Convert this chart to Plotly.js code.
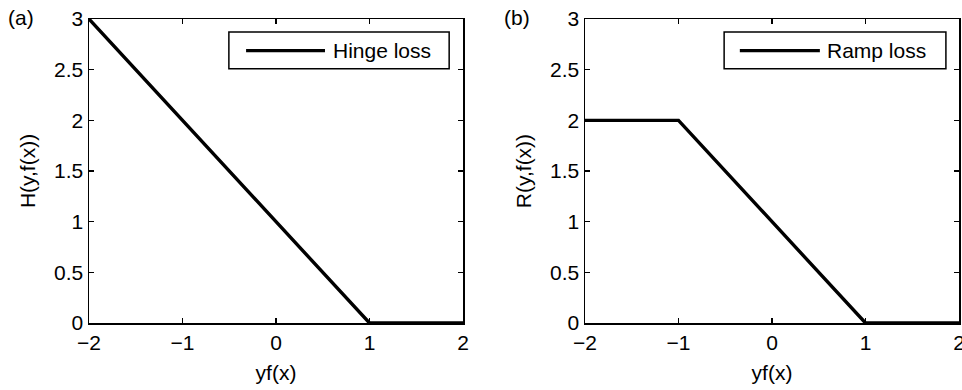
<!DOCTYPE html>
<html>
<head>
<meta charset="utf-8">
<script src="https://cdn.plot.ly/plotly-3.0.1.min.js"></script>
<style>
html,body{margin:0;padding:0;background:#fff;}
#chart{width:962px;height:390px;}
</style>
</head>
<body>
<div id="chart"></div>
<script>
// Data
const hingeX = [-2, 1, 2];
const hingeY = [3, 0, 0];
const rampX = [-2, -1, 1, 2];
const rampY = [2, 2, 0, 0];
const xTicks = [-2, -1, 0, 1, 2];
const yTicks = [0, 0.5, 1, 1.5, 2, 2.5, 3];
const seriesNames = ["Hinge loss", "Ramp loss"];
const yTitles = ["H(y,f(x))", "R(y,f(x))"];
const xTitle = "yf(x)";
const panelLabels = ["(a)", "(b)"];

const FONT = "Liberation Sans, Arial, Helvetica, sans-serif";
const fontSize = 21;

const traces = [
  {x: hingeX, y: hingeY, mode: "lines", name: seriesNames[0], showlegend: false,
   line: {color: "#000", width: 3.4}, xaxis: "x", yaxis: "y", hoverinfo: "skip"},
  {x: rampX, y: rampY, mode: "lines", name: seriesNames[1], showlegend: false,
   line: {color: "#000", width: 3.4}, xaxis: "x2", yaxis: "y2", hoverinfo: "skip"}
];

function xax(domain, anchor) {
  return {
    domain: domain, anchor: anchor, range: [-2, 2],
    tickvals: xTicks, ticks: "inside", ticklen: 5, tickwidth: 1.2, tickcolor: "#000",
    showline: true, linecolor: "#000", linewidth: 1.5, mirror: "allticks",
    showgrid: false, zeroline: false, ticklabeloverflow: "allow",
    tickfont: {family: FONT, size: fontSize, color: "#000"},
    title: {text: xTitle, font: {family: FONT, size: fontSize, color: "#000"}, standoff: 12},
    automargin: false, fixedrange: true
  };
}
function yax(anchor, title) {
  return {
    domain: [0, 1], anchor: anchor, range: [0, 3],
    tickvals: yTicks, ticks: "inside", ticklen: 5, tickwidth: 1.2, tickcolor: "#000",
    showline: true, linecolor: "#000", linewidth: 1.5, mirror: "allticks",
    showgrid: false, zeroline: false, ticklabeloverflow: "allow",
    tickfont: {family: FONT, size: fontSize, color: "#000"},
    title: {text: title, font: {family: FONT, size: fontSize, color: "#000"}, standoff: 12},
    automargin: false, fixedrange: true
  };
}

const L = 89, R = 3, T = 19, B = 67, W = 962, H = 390;
const pw = W - L - R;
const dom1 = [0, 374 / pw];
const dom2 = [(585 - L) / pw, 1];

function legendItems(xr, yr, box, line, textX, label) {
  const shapes = [
    {type: "rect", xref: xr + " domain", yref: yr + " domain",
     x0: box[0], x1: box[1], y0: box[2], y1: box[3],
     line: {color: "#000", width: 1.5}, fillcolor: "#fff", layer: "above"},
    {type: "line", xref: xr + " domain", yref: yr + " domain",
     x0: line[0], x1: line[1], y0: line[2], y1: line[2],
     line: {color: "#000", width: 3.4}, layer: "above"}
  ];
  const ann = {xref: xr + " domain", yref: yr + " domain", x: textX, y: line[2],
    xanchor: "left", yanchor: "middle", showarrow: false, text: label,
    font: {family: FONT, size: fontSize, color: "#000"}};
  return {shapes, ann};
}

const lg1 = legendItems("x", "y", [0.374, 0.963, 0.836, 0.957], [0.420, 0.631, 0.896], 0.648, seriesNames[0]);
const lg2 = legendItems("x2", "y2", [0.372, 0.965, 0.836, 0.957], [0.414, 0.628, 0.896], 0.643, seriesNames[1]);

const layout = {
  width: W, height: H,
  margin: {l: L, r: R, t: T, b: B, pad: 0},
  paper_bgcolor: "#fff", plot_bgcolor: "#fff",
  showlegend: false,
  font: {family: FONT, size: fontSize, color: "#000"},
  xaxis: xax(dom1, "y"),
  yaxis: yax("x", yTitles[0]),
  xaxis2: xax(dom2, "y2"),
  yaxis2: yax("x2", yTitles[1]),
  shapes: lg1.shapes.concat(lg2.shapes),
  annotations: [
    lg1.ann, lg2.ann,
    {xref: "paper", yref: "paper", x: (21 - L) / pw, y: (H - B - 17) / (H - T - B),
     xanchor: "center", yanchor: "middle", showarrow: false, text: panelLabels[0],
     font: {family: FONT, size: fontSize, color: "#000"}},
    {xref: "paper", yref: "paper", x: (517 - L) / pw, y: (H - B - 17) / (H - T - B),
     xanchor: "center", yanchor: "middle", showarrow: false, text: panelLabels[1],
     font: {family: FONT, size: fontSize, color: "#000"}}
  ]
};

Plotly.newPlot("chart", traces, layout, {staticPlot: true, displayModeBar: false});
</script>
</body>
</html>
